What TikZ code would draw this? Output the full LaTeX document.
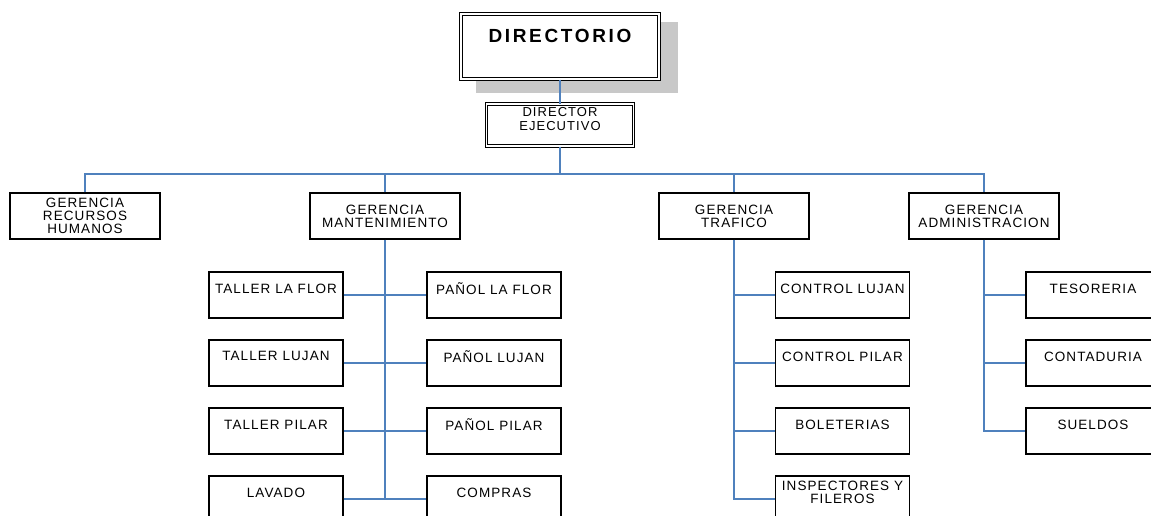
\documentclass[tikz,border=0pt]{standalone}
\usepackage{fontspec}
\setmainfont{Liberation Sans}
\newfontfamily\orgfont[LetterSpace=8]{Liberation Sans}
\newfontfamily\dirfont[LetterSpace=14]{Liberation Sans}
\definecolor{connblue}{HTML}{4F81BD}
\definecolor{shadowgray}{HTML}{C8C8C8}
\tikzset{
  box/.style={draw=black, line width=1.2pt, fill=white, rectangle, inner sep=0pt},
  dbox/.style={draw=black, line width=1pt, double=white, double distance=1.8pt, fill=white, rectangle, inner sep=0pt},
  gbox/.style={box, minimum width=150pt, minimum height=46pt, align=center, font=\orgfont\fontsize{13.5}{13}\selectfont},
  sub/.style={box, minimum width=134pt, minimum height=46pt},
  lbl/.style={align=center, inner sep=0pt, font=\orgfont\fontsize{13.5}{13}\selectfont},
  conn/.style={draw=connblue, line width=1.3pt}
}
\newcommand\orgsub[4]{%
  \node[sub] (#1) at (#2,#3) {};
  \node[lbl] (#1-t) at ([yshift=-17pt]#1.north) {#4};
}
\begin{document}
\begin{tikzpicture}[x=1pt, y=-1pt]
\clip (0,0) rectangle (1151,515);
\fill[white] (0,0) rectangle (1151,515);

\coordinate (bus) at (560,174);

% shadow
\fill[shadowgray] (476,22) rectangle (678,93);

% top
\node[dbox, minimum width=198pt, minimum height=65pt] (dir) at (560,46.5) {};
\node[inner sep=0pt, font=\dirfont\bfseries\fontsize{19}{20}\selectfont] (dir-t) at (560,36) {DIRECTORIO};

\node[dbox, minimum width=147pt, minimum height=42pt] (de) at (560,125) {};
\node[lbl, font=\orgfont\fontsize{13}{14}\selectfont] (de-t) at (560,119) {DIRECTOR\\EJECUTIVO};

% gerencias
\node[gbox] (rrhh) at (85,216) {GERENCIA\\RECURSOS\\HUMANOS};
\node[gbox] (mant) at (385,216) {GERENCIA\\MANTENIMIENTO};
\node[gbox] (traf) at (734,216) {GERENCIA\\TRAFICO};
\node[gbox] (adm) at (984,216) {GERENCIA\\ADMINISTRACION};

% mantenimiento
\orgsub{tlf}{276}{295}{TALLER LA FLOR}
\orgsub{tlu}{276}{363}{TALLER LUJAN}
\orgsub{tpi}{276}{431}{TALLER PILAR}
\orgsub{lav}{276}{499}{LAVADO}
\orgsub{plf}{494}{295}{PAÑOL LA FLOR}
\orgsub{plu}{494}{363}{PAÑOL LUJAN}
\orgsub{ppi}{494}{431}{PAÑOL PILAR}
\orgsub{com}{494}{499}{COMPRAS}

% trafico
\orgsub{clu}{842.5}{295}{CONTROL LUJAN}
\orgsub{cpi}{842.5}{363}{CONTROL PILAR}
\orgsub{bol}{842.5}{431}{BOLETERIAS}
\orgsub{insp}{842.5}{499}{INSPECTORES Y\\FILEROS}

% administracion
\orgsub{tes}{1093}{295}{TESORERIA}
\orgsub{cont}{1093}{363}{CONTADURIA}
\orgsub{sue}{1093}{431}{SUELDOS}

% connectors
\draw[conn] (dir.south) -- (de.north);
\draw[conn] (de.south) -- (bus);
\draw[conn] (rrhh.north) |- (bus) -| (adm.north);
\draw[conn] (mant.north) -- (mant.north |- bus);
\draw[conn] (traf.north) -- (traf.north |- bus);

\draw[conn] (mant.south) -- (mant.south |- lav.east);
\draw[conn] (tlf.east) -- (plf.west);
\draw[conn] (tlu.east) -- (plu.west);
\draw[conn] (tpi.east) -- (ppi.west);
\draw[conn] (lav.east) -- (com.west);

\draw[conn] (traf.south) |- (insp.west);
\draw[conn] (traf.south |- clu.west) -- (clu.west);
\draw[conn] (traf.south |- cpi.west) -- (cpi.west);
\draw[conn] (traf.south |- bol.west) -- (bol.west);

\draw[conn] (adm.south) |- (sue.west);
\draw[conn] (adm.south |- tes.west) -- (tes.west);
\draw[conn] (adm.south |- cont.west) -- (cont.west);
\end{tikzpicture}
\end{document}
